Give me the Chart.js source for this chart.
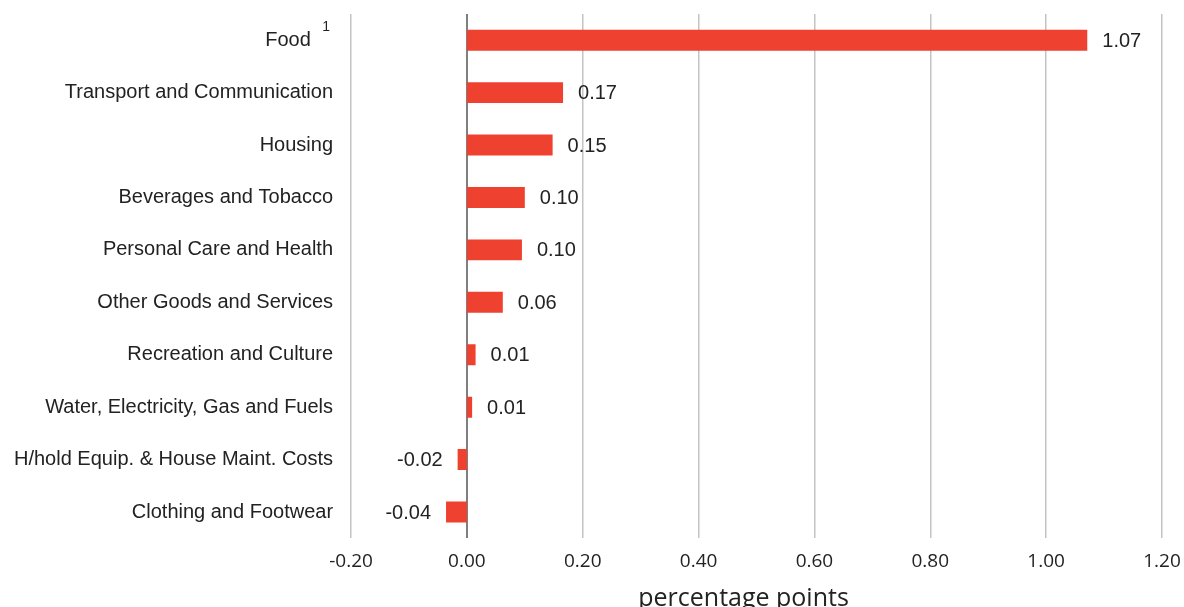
<!DOCTYPE html>
<html>
<head>
<meta charset="utf-8">
<script src="https://cdn.jsdelivr.net/npm/chart.js@4/dist/chart.umd.min.js"></script>
<style>
  html, body { margin: 0; padding: 0; background: #fff; overflow: hidden; }
  #wrap { width: 1184px; height: 614px; position: relative; }
</style>
</head>
<body>
<div id="wrap"><canvas id="chart"></canvas></div>
<script>
// categories top to bottom
const categories = [
  "Food",
  "Transport and Communication",
  "Housing",
  "Beverages and Tobacco",
  "Personal Care and Health",
  "Other Goods and Services",
  "Recreation and Culture",
  "Water, Electricity, Gas and Fuels",
  "H/hold Equip. & House Maint. Costs",
  "Clothing and Footwear"
];
// bar lengths
const contributions = [1.071, 0.166, 0.148, 0.100, 0.095, 0.062, 0.015, 0.009, -0.016, -0.036];
// printed labels
const valueLabels = ["1.07", "0.17", "0.15", "0.10", "0.10", "0.06", "0.01", "0.01", "-0.02", "-0.04"];
const footnotes = { 0: "1" };

const FONT = "'Liberation Sans', Arial, sans-serif";
const FONT2 = "'Open Sans', sans-serif";

const valueLabelPlugin = {
  id: "valueLabels",
  afterDatasetsDraw(chart) {
    const ctx = chart.ctx;
    const meta = chart.getDatasetMeta(0);
    ctx.save();
    ctx.font = "20px " + FONT;
    ctx.fillStyle = "#222";
    ctx.textBaseline = "middle";
    meta.data.forEach((bar, i) => {
      if (contributions[i] >= 0) {
        ctx.textAlign = "left";
        ctx.fillText(valueLabels[i], bar.x + 15, bar.y + 1);
      } else {
        ctx.textAlign = "right";
        ctx.fillText(valueLabels[i], bar.x - 15, bar.y + 1);
      }
    });
    // footnote marks beside category labels
    const yScale = chart.scales.y;
    ctx.font = "14px " + FONT;
    ctx.textAlign = "center";
    Object.keys(footnotes).forEach(k => {
      const y = yScale.getPixelForTick(Number(k));
      ctx.fillText(footnotes[k], chart.chartArea.left - 25, y - 13);
    });
    ctx.restore();
  }
};

new Chart(document.getElementById("chart"), {
  type: "bar",
  data: {
    labels: categories,
    datasets: [{
      data: contributions,
      backgroundColor: "#EF4130",
      borderWidth: 0,
      categoryPercentage: 1,
      barPercentage: 0.4
    }]
  },
  options: {
    indexAxis: "y",
    responsive: true,
    maintainAspectRatio: false,
    animation: false,
    layout: { padding: { top: 14, left: 14, right: 22, bottom: 0 } },
    plugins: {
      legend: { display: false },
      tooltip: { enabled: false }
    },
    scales: {
      x: {
        min: -0.2,
        max: 1.2,
        afterFit: scale => {
          scale.height -= 10;
          scale.paddingLeft = 0;
          scale.paddingRight = 0;
        },
        ticks: {
          stepSize: 0.2,
          padding: 12,
          color: "#222",
          font: { family: FONT2, size: 19 },
          callback: v => Math.abs(v) < 1e-9 ? "0.00" : Number(v).toFixed(2)
        },
        grid: {
          drawTicks: false,
          color: ctx => (ctx.tick && Math.abs(ctx.tick.value) < 1e-9) ? "#7f7f7f" : "#c4c4c4",
          lineWidth: ctx => (ctx.tick && Math.abs(ctx.tick.value) < 1e-9) ? 2 : 1.5
        },
        border: { display: false },
        title: {
          display: true,
          text: "percentage points    ",
          color: "#222",
          font: { family: FONT2, size: 25 },
          padding: { top: 9, bottom: 0 }
        }
      },
      y: {
        grid: { display: false, drawTicks: false },
        border: { display: false },
        afterFit: scale => {
          scale.paddingTop = 0;
          scale.paddingBottom = 0;
          scale.width -= 18;
        },
        ticks: {
          padding: 18,
          color: "#222",
          font: { family: FONT, size: 20 },
          callback: (v, i) => footnotes[i] ? categories[i] + "    " : categories[i]
        }
      }
    }
  },
  plugins: [valueLabelPlugin]
});
</script>
</body>
</html>
